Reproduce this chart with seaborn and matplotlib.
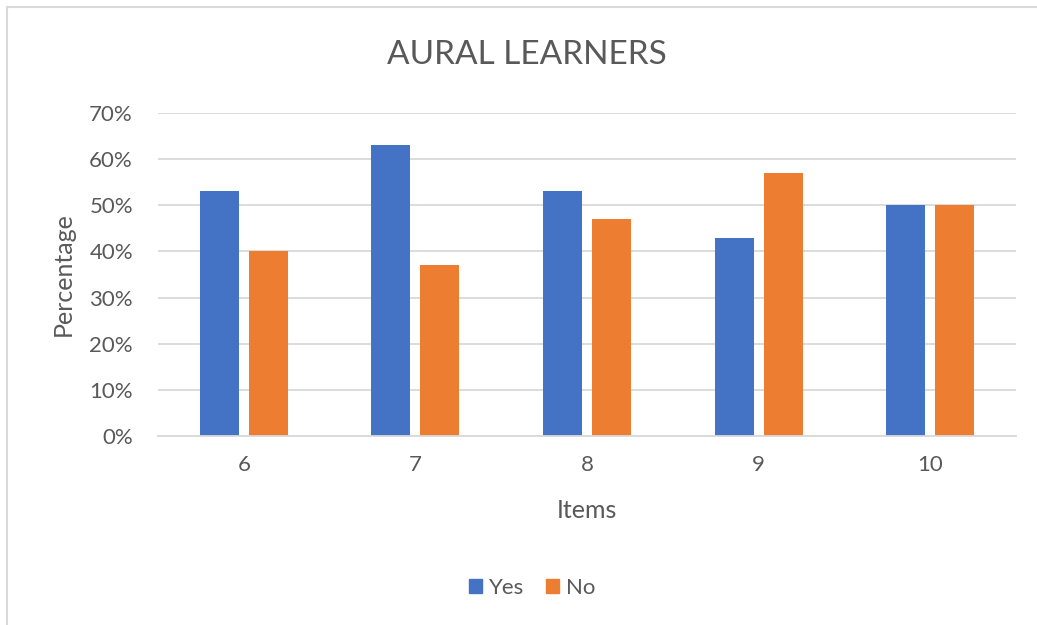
import matplotlib
matplotlib.use("Agg")
import matplotlib.pyplot as plt
import seaborn as sns
import pandas as pd
from matplotlib.lines import Line2D
from matplotlib.patches import Patch
from matplotlib.ticker import PercentFormatter

items = ["6", "7", "8", "9", "10"]
yes_vals = [0.53, 0.63, 0.53, 0.43, 0.50]
no_vals = [0.40, 0.37, 0.47, 0.57, 0.50]
series = ["Yes", "No"]
colors = ["#4472C4", "#ED7D31"]

df = pd.DataFrame({
    "Items": items * 2,
    "Percentage": yes_vals + no_vals,
    "Series": [series[0]] * len(items) + [series[1]] * len(items),
})

sns.set_theme(style="white")
plt.rcParams["font.family"] = ["Lato", "DejaVu Sans"]
text_color = "#595959"

fig = plt.figure(figsize=(10.37, 6.25), dpi=100)
ax = fig.add_axes([158 / 1037, 189 / 625, (1016 - 158) / 1037, (436 - 113) / 625])

sns.barplot(data=df, x="Items", y="Percentage", hue="Series", order=items,
            hue_order=series, palette=colors, width=0.571, gap=0.205,
            saturation=1, ax=ax, legend=False, linewidth=0, edgecolor="none")

ax.set_ylim(0, 0.7)
ax.set_yticks([i / 10 for i in range(8)])
ax.yaxis.set_major_formatter(PercentFormatter(1.0, decimals=0))
ax.grid(axis="y", color="#D9D9D9", linewidth=1.3)
ax.set_axisbelow(True)
for s in ["top", "right", "left"]:
    ax.spines[s].set_visible(False)
ax.spines["bottom"].set_color("#D9D9D9")
ax.spines["bottom"].set_linewidth(1.3)
ax.tick_params(axis="y", length=0, labelsize=16, colors=text_color, pad=18)
ax.tick_params(axis="x", length=0, labelsize=16, colors=text_color, pad=14)
ax.set_xlabel("Items", fontsize=18, color=text_color)
ax.set_ylabel("Percentage", fontsize=18, color=text_color)
ax.xaxis.set_label_coords(0.5, (436 - 510) / 323)
ax.yaxis.set_label_coords((63 - 158) / 858, 0.5)
ax.xaxis.label.set_verticalalignment("center")
ax.yaxis.label.set_verticalalignment("center")

fig.text(527 / 1037, 1 - 55 / 625, "AURAL LEARNERS", ha="center", va="center",
         fontsize=24, color=text_color)

handles = [Patch(facecolor=c, edgecolor=c) for c in colors]
fig.legend(handles, series, loc="center", bbox_to_anchor=(532 / 1037, 1 - 588 / 625),
           ncol=2, frameon=False, fontsize=16, handlelength=0.6, handleheight=0.6,
           handletextpad=0.3, columnspacing=1.0, labelcolor=text_color)

fig.add_artist(Line2D([7 / 1037, 1.0], [1 - 7 / 625, 1 - 7 / 625], color="#D9D9D9", linewidth=1.5,
                      transform=fig.transFigure))
fig.add_artist(Line2D([7 / 1037, 7 / 1037], [0.0, 1 - 7 / 625], color="#D9D9D9", linewidth=1.5,
                      transform=fig.transFigure))

fig.savefig("out.png", dpi=100, facecolor="white")
